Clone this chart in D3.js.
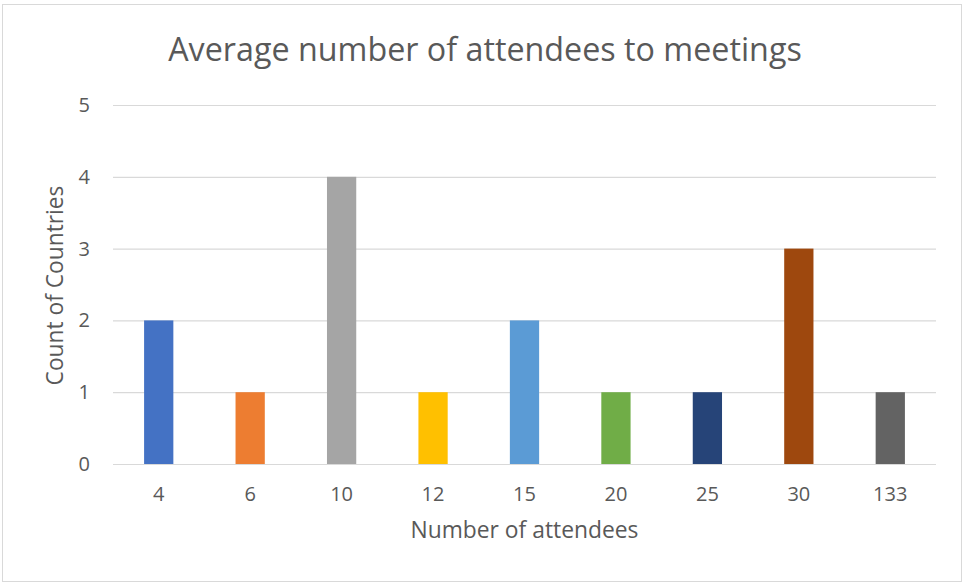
<!DOCTYPE html>
<html>
<head>
<meta charset="utf-8">
<script src="https://cdn.jsdelivr.net/npm/d3@7"></script>
<style>
  html, body { margin: 0; padding: 0; background: #ffffff; }
  svg { display: block; }
  text { font-family: "Open Sans", "Liberation Sans", sans-serif; fill: #595959; }
</style>
</head>
<body>
<svg id="chart" width="964" height="584"></svg>
<script>
// Attendee buckets and how many countries fall into each
const categories = ["4", "6", "10", "12", "15", "20", "25", "30", "133"];
const counts = [2, 1, 4, 1, 2, 1, 1, 3, 1];
const barColors = ["#4472C4", "#ED7D31", "#A5A5A5", "#FFC000", "#5B9BD5",
                   "#70AD47", "#264478", "#9E480E", "#636363"];
const yTicks = [0, 1, 2, 3, 4, 5];

const titleText = "Average number of attendees to meetings";
const xTitleText = "Number of attendees";
const yTitleText = "Count of Countries";

const svg = d3.select("#chart");
const plot = { left: 113, right: 936, top: 105, bottom: 464 };

// Chart frame
svg.append("rect")
  .attr("x", 2.5).attr("y", 4.5)
  .attr("width", 959).attr("height", 577)
  .attr("fill", "#ffffff")
  .attr("stroke", "#d9d9d9")
  .attr("stroke-width", 1);

const x = d3.scaleBand()
  .domain(categories)
  .range([plot.left, plot.right])
  .paddingInner(0.68)
  .paddingOuter(0.34);

const y = d3.scaleLinear()
  .domain([0, 5])
  .range([plot.bottom, plot.top]);

// Horizontal gridlines with value labels on the left
const yAxis = d3.axisLeft(y)
  .tickValues(yTicks)
  .tickSize(-(plot.right - plot.left))
  .tickPadding(23)
  .tickFormat(d3.format("d"));

const gy = svg.append("g")
  .attr("transform", `translate(${plot.left},0)`)
  .call(yAxis);
gy.select(".domain").remove();
gy.selectAll(".tick line")
  .attr("stroke", "#d9d9d9")
  .attr("stroke-width", 1.2);
gy.selectAll(".tick text")
  .attr("font-size", 20)
  .attr("fill", "#595959");

// Bars
svg.append("g")
  .selectAll("rect")
  .data(counts)
  .join("rect")
  .attr("x", (d, i) => x(categories[i]))
  .attr("y", d => y(d))
  .attr("width", x.bandwidth())
  .attr("height", d => y(0) - y(d))
  .attr("fill", (d, i) => barColors[i]);

// Category labels under the baseline
const xAxis = d3.axisBottom(x).tickSize(0).tickPadding(23);
const gx = svg.append("g")
  .attr("transform", `translate(0,${plot.bottom})`)
  .call(xAxis);
gx.select(".domain").remove();
gx.selectAll(".tick text")
  .attr("font-size", 20)
  .attr("fill", "#595959");

// Sizes a text element so that it spans the given width
function fitWidth(sel, base, width) {
  sel.attr("font-size", base);
  const len = sel.node().getComputedTextLength();
  sel.attr("font-size", base * width / len);
}

const title = svg.append("text")
  .attr("x", 485)
  .attr("y", 61)
  .attr("text-anchor", "middle")
  .text(titleText);
fitWidth(title, 28, 634);

const xTitle = svg.append("text")
  .attr("x", (plot.left + plot.right) / 2)
  .attr("y", 538)
  .attr("text-anchor", "middle")
  .text(xTitleText);
fitWidth(xTitle, 20, 228);

const yTitle = svg.append("text")
  .attr("transform", `translate(63,${(plot.top + plot.bottom) / 2 + 1}) rotate(-90)`)
  .attr("text-anchor", "middle")
  .text(yTitleText);
fitWidth(yTitle, 20, 200);
</script>
</body>
</html>
